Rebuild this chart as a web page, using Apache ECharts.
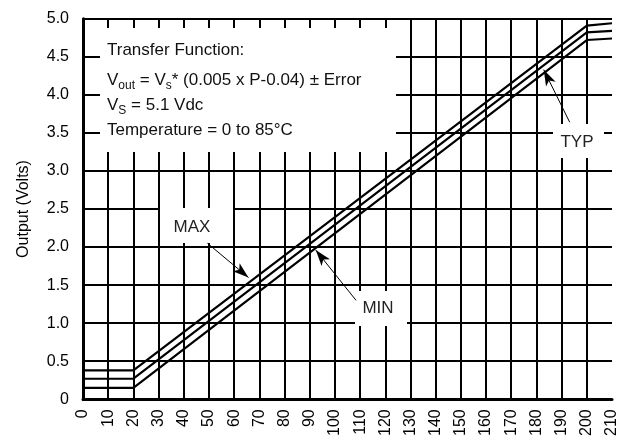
<!DOCTYPE html>
<html><head><meta charset="utf-8">
<script src="https://cdn.jsdelivr.net/npm/echarts@6/dist/echarts.min.js"></script>
<style>html,body{margin:0;padding:0;background:#fff}#c{width:621px;height:444px}</style>
</head><body><div id="c"></div>
<script>
// Pressure (x, kPa) breakpoints and output voltages
const pressure = [0, 20, 200, 210];
const maxV = [0.38, 0.38, 4.91, 4.94];
const typV = [0.27, 0.27, 4.82, 4.84];
const minV = [0.15, 0.15, 4.72, 4.74];
const yTickLabels = ['0','0.5','1.0','1.5','2.0','2.5','3.0','3.5','4.0','4.5','5.0'];
// Annotation arrows: [tailX, tailY, tipX, tipY] in data units
const arrowMax = [49.4, 2.05, 65.7, 1.60];
const arrowMin = [108.4, 1.30, 92.4, 1.96];
const arrowTyp = [193.2, 3.64, 182.9, 4.33];

const FONT = '"Liberation Sans", Arial, Helvetica, sans-serif';
const pts = v => pressure.map((p, i) => [p, v[i]]);
const arrow = a => [
  {coord: [a[0], a[1]], symbol: 'none'},
  {coord: [a[2], a[3]], symbol: 'arrow', symbolSize: [8, 16]}
];
const lineSeries = (name, v, extra) => Object.assign({
  name, type: 'line', data: pts(v), symbol: 'none', z: 3,
  lineStyle: {color: '#000', width: 2.2}, silent: true
}, extra || {});

const chart = echarts.init(document.getElementById('c'), null, {renderer: 'canvas'});
chart.setOption({
  animation: false,
  backgroundColor: '#fff',
  grid: {left: 83, right: 9, top: 18.7, bottom: 44.7},
  xAxis: {
    type: 'value', min: 0, max: 210, interval: 10,
    axisLine: {show: true, onZero: false, lineStyle: {color: '#000', width: 3}},
    axisTick: {show: false},
    splitLine: {show: true, showMaxLine: false, lineStyle: {color: '#000', width: 2}},
    axisLabel: {rotate: 90, margin: 10, color: '#000', fontSize: 16, fontFamily: FONT}
  },
  yAxis: {
    type: 'value', min: 0, max: 5, interval: 0.5,
    name: 'Output (Volts)', nameLocation: 'middle', nameGap: 51, nameRotate: 90,
    nameTextStyle: {color: '#000', fontSize: 16, fontFamily: FONT},
    axisLine: {show: true, lineStyle: {color: '#000', width: 3}},
    axisTick: {show: false},
    splitLine: {show: true, lineStyle: {color: '#000', width: 2}},
    axisLabel: {margin: 14, color: '#000', fontSize: 16, fontFamily: FONT,
      formatter: v => yTickLabels[Math.round(v / 0.5)]}
  },
  series: [
    lineSeries('MAX', maxV),
    lineSeries('TYP', typV, {
      markLine: {
        silent: true, animation: false,
        label: {show: false},
        lineStyle: {color: '#000', width: 1, type: 'solid'},
        emphasis: {disabled: true},
        data: [arrow(arrowMax), arrow(arrowMin), arrow(arrowTyp)]
      }
    }),
    lineSeries('MIN', minV)
  ],
  graphic: [
    {type: 'rect', z: 1, shape: {x: 100, y: 28, width: 296, height: 124}, style: {fill: '#fff'}},
    {type: 'rect', z: 1, shape: {x: 160, y: 208, width: 73, height: 35}, style: {fill: '#fff'}},
    {type: 'rect', z: 1, shape: {x: 355, y: 291, width: 52, height: 35}, style: {fill: '#fff'}},
    {type: 'rect', z: 1, shape: {x: 553, y: 124, width: 51, height: 34}, style: {fill: '#fff'}},
    {type: 'text', z: 5, x: 192, y: 227, style: {text: 'MAX', fill: '#222', font: '17px ' + FONT, align: 'center', verticalAlign: 'middle'}},
    {type: 'text', z: 5, x: 378, y: 308, style: {text: 'MIN', fill: '#222', font: '17px ' + FONT, align: 'center', verticalAlign: 'middle'}},
    {type: 'text', z: 5, x: 577, y: 142, style: {text: 'TYP', fill: '#222', font: '17px ' + FONT, align: 'center', verticalAlign: 'middle'}},
    {type: 'text', z: 5, x: 107, y: 50, style: {text: 'Transfer Function:', fill: '#111', font: '17px ' + FONT, verticalAlign: 'middle'}},
    {type: 'text', z: 5, x: 107, y: 80, style: {
      text: '{m|V}{s|out}{m| = V}{s|s}{m|* (0.005 x P-0.04) ± Error}',
      verticalAlign: 'middle',
      rich: {
        m: {fontSize: 17, fontFamily: FONT, fill: '#111', color: '#111', lineHeight: 24},
        s: {fontSize: 12, fontFamily: FONT, fill: '#111', color: '#111', lineHeight: 12, verticalAlign: 'bottom'}
      }
    }},
    {type: 'text', z: 5, x: 107, y: 105, style: {
      text: '{m|V}{s|S}{m| = 5.1 Vdc}',
      verticalAlign: 'middle',
      rich: {
        m: {fontSize: 17, fontFamily: FONT, fill: '#111', color: '#111', lineHeight: 24},
        s: {fontSize: 12, fontFamily: FONT, fill: '#111', color: '#111', lineHeight: 12, verticalAlign: 'bottom'}
      }
    }},
    {type: 'text', z: 5, x: 107, y: 130, style: {text: 'Temperature = 0 to 85°C', fill: '#111', font: '17px ' + FONT, verticalAlign: 'middle'}}
  ]
});
</script></body></html>
